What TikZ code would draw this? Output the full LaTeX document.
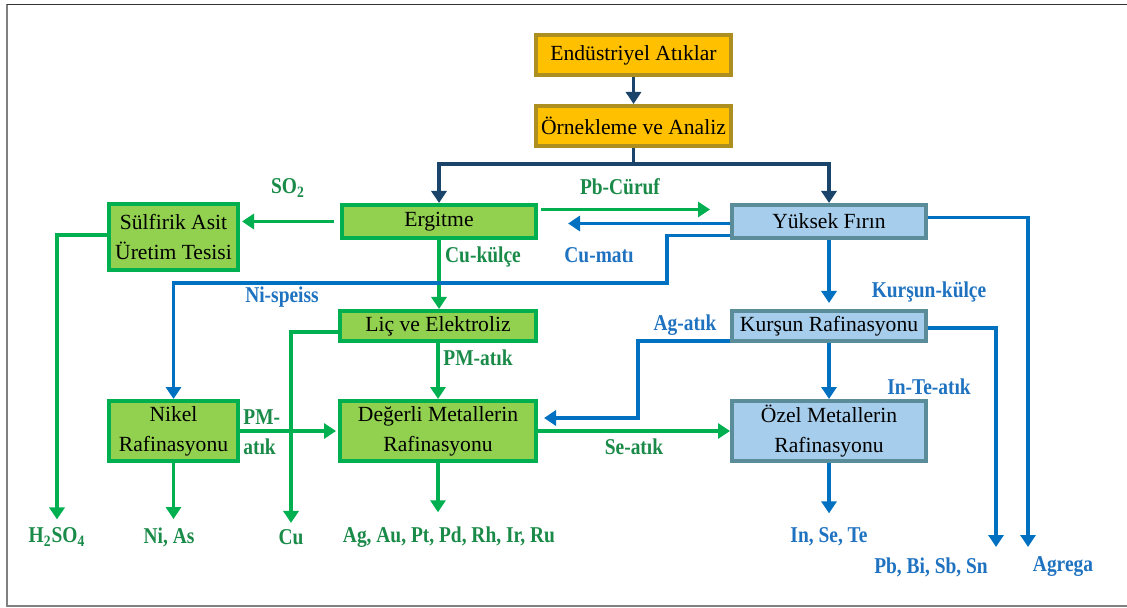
\documentclass[tikz,border=0pt]{standalone}
\usepackage{fontspec}
\setmainfont{Liberation Serif}
\newfontfamily\labfont[FakeStretch=0.86]{Liberation Serif}
\usepackage{tikz}
\usetikzlibrary{calc,arrows.meta}

\definecolor{boxgreen}{HTML}{92D050}
\definecolor{edgegreen}{HTML}{00B050}
\definecolor{boxorange}{HTML}{FFC000}
\definecolor{edgegold}{HTML}{AD8F1F}
\definecolor{boxblue}{HTML}{A6CDEB}
\definecolor{edgeblue}{HTML}{5B8C99}
\definecolor{flowgreen}{HTML}{00B050}
\definecolor{flowblue}{HTML}{0070C0}
\definecolor{flownavy}{HTML}{1A4469}
\definecolor{textgreen}{HTML}{1A8A48}
\definecolor{textblue}{HTML}{1F72C0}

\begin{document}
\begin{tikzpicture}[x=0.5pt,y=-0.5pt,
    box/.style={rectangle,line width=2pt,inner sep=0pt,align=center,
      font=\fontsize{10.8}{15}\selectfont},
    ybox/.style={box,fill=boxorange,draw=edgegold},
    gbox/.style={box,fill=boxgreen,draw=edgegreen},
    bbox/.style={box,fill=boxblue,draw=edgeblue},
    tip/.style={-{Triangle[length=6pt,width=7.5pt]}},
    garrow/.style={tip,draw=flowgreen,line width=1.7pt},
    barrow/.style={tip,draw=flowblue,line width=1.7pt},
    darrow/.style={tip,draw=flownavy,line width=1.7pt},
    glabel/.style={text=textgreen,inner sep=1pt,font=\labfont\bfseries\fontsize{11.3}{13}\selectfont},
    blabel/.style={glabel,text=textblue}]

  \useasboundingbox (0,0) rectangle (1127,608);
  % frame
  \draw[gray,line width=0.8pt] (1135,606) -- (7,606) -- (7,4.5);
  \draw[black!80,line width=0.8pt] (7,4.5) -- (1135,4.5);

  % boxes
  \node[ybox,minimum width=97.5pt,minimum height=20pt] (E) at (633.5,55) {End\"ustriyel At\i klar};
  \node[ybox,minimum width=97.5pt,minimum height=20pt] (O) at (633.5,126) {\"Ornekleme ve Analiz};
  \node[gbox,minimum width=97pt,minimum height=16.5pt] (Erg) at (439,221.5) {Ergitme};
  \node[gbox,minimum width=64.5pt,minimum height=33pt] (Sulf) at (173.5,237) {S\"ulfirik Asit\\\"Uretim Tesisi};
  \node[bbox,minimum width=97pt,minimum height=16.5pt] (YF) at (829,221.5) {Y\"uksek F\i r\i n};
  \node[gbox,minimum width=98pt,minimum height=15pt] (Lic) at (438,326) {Li\c{c} ve Elektroliz};
  \node[bbox,minimum width=97pt,minimum height=15pt] (KR) at (829,326) {Kur\c{s}un Rafinasyonu};
  \node[gbox,minimum width=64.5pt,minimum height=30pt] (Nikel) at (173.5,431) {Nikel\\Rafinasyonu};
  \node[gbox,minimum width=98pt,minimum height=30pt] (Deg) at (438,431) {De\u{g}erli Metallerin\\Rafinasyonu};
  \node[bbox,minimum width=97pt,minimum height=30pt] (Ozel) at (829,431) {\"Ozel Metallerin\\Rafinasyonu};

  % products
  \node[glabel] (h2so4) at (57,537) {H\textsubscript{2}SO\textsubscript{4}};
  \node[glabel] (nias) at (169,537) {Ni, As};
  \node[glabel] (cu) at (291,537) {Cu};
  \node[glabel] (agau) at (449,537) {Ag, Au, Pt, Pd, Rh, Ir, Ru};
  \node[blabel] (inse) at (829,537) {In, Se, Te};
  \node[blabel] (pbbi) at (931,567) {Pb, Bi, Sb, Sn};
  \node[blabel] (agrega) at (1063,567) {Agrega};

  \coordinate (split) at ([yshift=-8pt]O.south);
  \coordinate (nis) at (667,283);
  \coordinate (agk) at (638,418);
  \coordinate (pbend) at (996,547);
  \coordinate (agend) at (1028,547);

  % navy flows
  \draw[darrow] (E) -- (O);
  \draw[darrow] (O.south) -- (split) -| (Erg.north);
  \draw[darrow] (split) -| (YF.north);

  % green flows
  \draw[garrow,shorten <=3pt,shorten >=1pt] (Erg.west) -- (Erg.west -| Sulf.east);
  \draw[garrow,shorten <=1.5pt,shorten >=10pt] ([yshift=6pt]Erg.east) -- ([yshift=6pt]YF.west);
  \draw[garrow] (Erg.south) -- (Erg.south |- Lic.north);
  \draw[garrow] ([yshift=-3pt]Lic.west) -| ([yshift=2pt]cu.north);
  \draw[garrow] (Lic.south) -- (Lic.south |- Deg.north);
  \draw[garrow,shorten >=1pt] (Nikel.east) -- (Deg.west);
  \draw[garrow,shorten >=3pt] (Nikel.south) -- (Nikel.south |- nias.north);
  \draw[garrow] ([yshift=1pt]Sulf.west) -| ([yshift=3pt]h2so4.north);
  \draw[garrow,shorten >=6pt] (Deg.south) -- (Deg.south |- agau.north);
  \draw[garrow] (Deg.east) -- (Ozel.west);

  % blue flows
  \draw[barrow,shorten >=15pt] ([yshift=-1pt]YF.west) -- ([yshift=-1pt]YF.west -| Erg.east);
  \draw[barrow] ([yshift=-7pt]YF.west) -| (nis) -| (Nikel.north);
  \draw[barrow,shorten >=3pt] (YF.south) -- (YF.south |- KR.north);
  \draw[barrow] (KR.south) -- (KR.south |- Ozel.north);
  \draw[barrow,shorten >=3pt] ([yshift=-7.5pt]KR.west) -| (agk) -- ([yshift=6.5pt]Deg.east);
  \draw[barrow,shorten >=6pt] (Ozel.south) -- (Ozel.south |- inse.north);
  \draw[barrow] ([yshift=-1pt]KR.east) -| (pbend);
  \draw[barrow] ([yshift=2pt]YF.east) -| (agend);

  % flow labels
  \node[glabel] (so2) at (288,188) {SO\textsubscript{2}};
  \node[glabel] (pbcuruf) at (620,187) {Pb-C\"uruf};
  \node[blabel] (cumati) at (599,255) {Cu-mat\i};
  \node[blabel] (nispeiss) at (282,297) {Ni-speiss};
  \node[glabel] (cukulce) at (483,257) {Cu-k\"ul\c{c}e};
  \node[glabel] (pmatik) at (478,358) {PM-at\i k};
  \node[glabel,anchor=west] (pm) at (241,417) {PM-};
  \node[glabel,anchor=west] (atik) at (241,447) {at\i k};
  \node[glabel] (seatik) at (634,447) {Se-at\i k};
  \node[blabel] (agatik) at (685,325) {Ag-at\i k};
  \node[blabel] (kkulce) at (929,292) {Kur\c{s}un-k\"ul\c{c}e};
  \node[blabel] (intetik) at (929,387) {In-Te-at\i k};
\end{tikzpicture}
\end{document}
